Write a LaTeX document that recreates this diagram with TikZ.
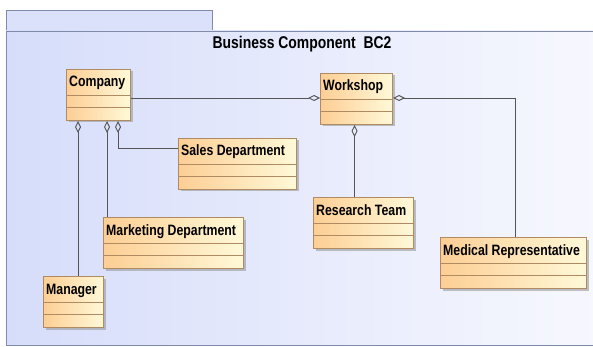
\documentclass[tikz,border=0pt]{standalone}
\usepackage{fontspec}
\setmainfont{Liberation Sans}
\newfontfamily\umlfont[FakeStretch=0.82]{Liberation Sans}
\usetikzlibrary{arrows.meta}
\usetikzlibrary{shadows}
\definecolor{pkgline}{RGB}{128,138,170}
\definecolor{pkgleft}{RGB}{214,221,250}
\definecolor{pkgright}{RGB}{247,248,254}
\definecolor{clsleft}{RGB}{253,206,148}
\definecolor{clsright}{RGB}{255,249,216}
\definecolor{clsline}{RGB}{176,138,98}
\definecolor{wire}{RGB}{85,85,85}
\tikzset{class box/.style={draw=clsline,line width=1pt,left color=clsleft,right color=clsright,
		anchor=north west,minimum height=51,inner sep=0pt,
		drop shadow={shadow xshift=2pt,shadow yshift=-2pt,fill=black!40,opacity=0.6}}}
\tikzset{class name/.style={anchor=base west,inner sep=0pt,font=\umlfont\bfseries\fontsize{15}{15}\selectfont}}
\tikzset{aggregation/.style={draw=wire,line width=0.9pt,arrows={Diamond[open,length=12pt,width=6pt]-}}}

\begin{document}
\begin{tikzpicture}[x=1pt,y=-1pt]
	\useasboundingbox (0,0) rectangle (593,347);

	% package frame
	\draw[pkgline,fill=pkgleft!85!pkgright] (6,10) rectangle (212,31);
	\draw[pkgline,left color=pkgleft,right color=pkgright] (6,31) rectangle (598,345);
	\node[font=\umlfont\bfseries\fontsize{17}{17}\selectfont] (title) at (302,44) {Business Component\ \ BC2};

	% classes: name/x/y/width/text
	\foreach \name/\x/\y/\w/\text in {company/66/69/64/Company,
			workshop/320/73/72/Workshop,
			sales/178/138/118/Sales Department,
			research/313/197/100/Research Team,
			marketing/103/217/140/Marketing Department,
			manager/43/276/60/Manager,
			medrep/440/237/146/Medical Representative}
	{
		\node[class box,minimum width=\w] (\name) at (\x,\y) {};
		\draw[clsline,line width=0.8pt] ([yshift=-26pt]\name.north west) -- ([yshift=-26pt]\name.north east);
		\draw[clsline,line width=0.8pt] ([yshift=-38pt]\name.north west) -- ([yshift=-38pt]\name.north east);
		\node[class name] (\name-title) at ([xshift=3pt,yshift=-18pt]\name.north west) {\text};
	}

	% aggregations
	\draw[aggregation] ([yshift=-25pt]workshop.north west) coordinate (ws-in) -- (company.east |- ws-in);
	\draw[aggregation] ([yshift=-25pt]workshop.north east) -| ([xshift=2pt]medrep.north);
	\draw[aggregation] ([xshift=-2pt]workshop.south) coordinate (ws-out) -- (ws-out |- research.north);

	\draw[aggregation] ([xshift=12pt]company.south west) coordinate (c-mgr) -- (c-mgr |- manager.north);
	\draw[aggregation] ([xshift=41pt]company.south west) coordinate (c-mkt) -- (c-mkt |- marketing.north);
	\draw[aggregation] ([xshift=52pt]company.south west) |- ([yshift=-10pt]sales.north west);
\end{tikzpicture}
\end{document}
